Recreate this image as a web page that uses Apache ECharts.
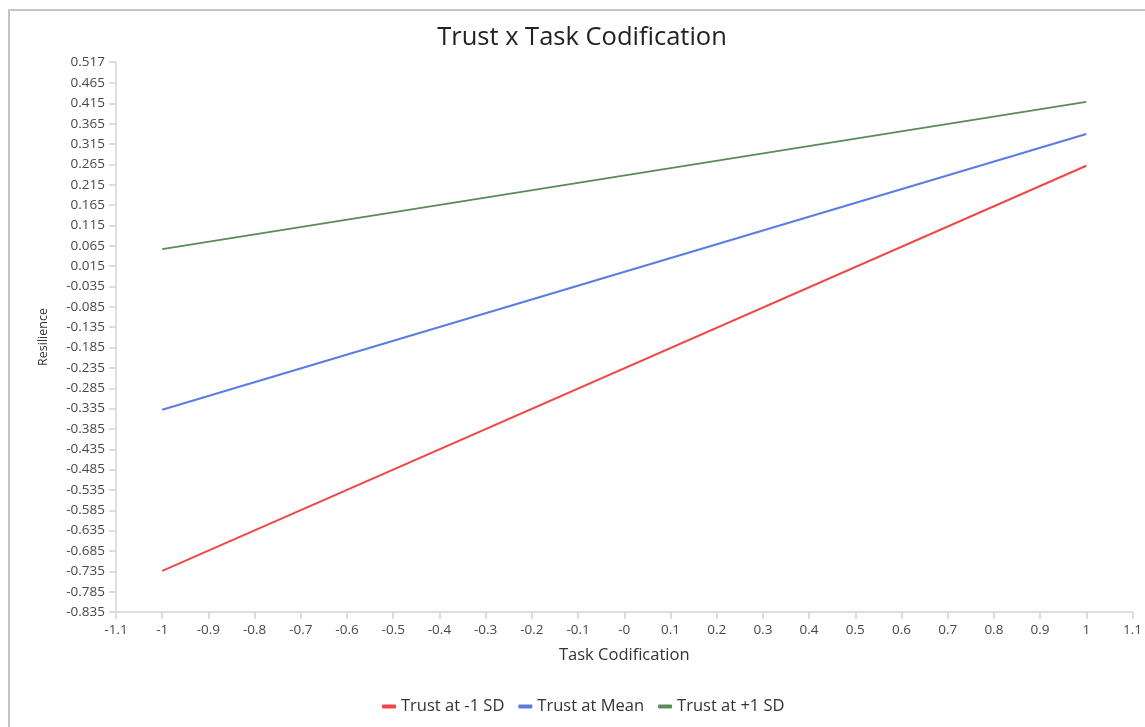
<!DOCTYPE html>
<html>
<head>
<meta charset="utf-8">
<script src="https://cdn.jsdelivr.net/npm/echarts@6/dist/echarts.min.js"></script>
<style>
html,body{margin:0;padding:0;background:#fff;}
#chart{width:1145px;height:727px;}
</style>
</head>
<body>
<div id="chart"></div>
<script>
const seriesNames = ['Trust at -1 SD', 'Trust at Mean', 'Trust at +1 SD'];
const xValues = [-1, 1];
const lowTrust = [-0.734, 0.262];
const meanTrust = [-0.338, 0.340];
const highTrust = [0.057, 0.419];
const yTicks = [-0.835, -0.785, -0.735, -0.685, -0.635, -0.585, -0.535, -0.485, -0.435, -0.385,
  -0.335, -0.285, -0.235, -0.185, -0.135, -0.085, -0.035, 0.015, 0.065, 0.115, 0.165, 0.215,
  0.265, 0.315, 0.365, 0.415, 0.465, 0.517];
const colors = ['#f04848', '#5a7ce4', '#5a8c5a'];

const chart = echarts.init(document.getElementById('chart'));
const font = '"Open Sans", "Noto Sans", sans-serif';
function pairs(ys){ return xValues.map((x,i)=>[x, ys[i]]); }

chart.setOption({
  animation: false,
  textStyle: { fontFamily: font },
  title: {
    text: 'Trust x Task Codification',
    left: 577, top: 20, textAlign: 'center',
    textStyle: { fontSize: 25.5, fontWeight: 'normal', color: '#222', fontFamily: font }
  },
  graphic: [{
    type: 'rect', shape: { x: 9, y: 10, width: 1300, height: 900 },
    style: { fill: 'none', stroke: '#c4c4c4', lineWidth: 2 }, silent: true
  }],
  legend: {
    bottom: 7, left: 377,
    icon: 'roundRect', itemWidth: 14, itemHeight: 4, itemGap: 14,
    textStyle: { fontSize: 16.5, color: '#333', fontFamily: font },
    data: seriesNames
  },
  grid: { left: 116, right: 12, top: 62, bottom: 115, containLabel: false },
  xAxis: {
    type: 'value', min: -1.1, max: 1.1, interval: 0.1,
    name: 'Task Codification', nameLocation: 'middle', nameGap: 35,
    nameTextStyle: { fontSize: 16.5, color: '#333' },
    axisLine: { show: true, onZero: false, lineStyle: { color: '#d4d4d4', width: 1.5 } },
    axisTick: { show: true, length: 7, lineStyle: { color: '#d4d4d4', width: 1.5 } },
    splitLine: { show: false },
    axisLabel: {
      fontSize: 13.5, color: '#484848', margin: 11,
      formatter: v => Math.abs(v) < 1e-9 ? '-0' : String(+v.toFixed(1))
    }
  },
  yAxis: {
    type: 'value', min: -0.835, max: 0.517,
    name: 'Resilience', nameLocation: 'middle', nameGap: 66,
    nameTextStyle: { fontSize: 12.5, color: '#333' },
    axisLine: { show: true, onZero: false, lineStyle: { color: '#d4d4d4', width: 1.5 } },
    axisTick: { show: true, length: 7, customValues: yTicks, lineStyle: { color: '#d4d4d4', width: 1.5 } },
    splitLine: { show: false },
    axisLabel: {
      fontSize: 13.5, color: '#484848', margin: 11, customValues: yTicks,
      formatter: v => (+v).toFixed(3)
    }
  },
  series: [
    { name: seriesNames[0], type: 'line', data: pairs(lowTrust), symbol: 'none', lineStyle: { color: colors[0], width: 2 }, itemStyle: { color: colors[0] } },
    { name: seriesNames[1], type: 'line', data: pairs(meanTrust), symbol: 'none', lineStyle: { color: colors[1], width: 2 }, itemStyle: { color: colors[1] } },
    { name: seriesNames[2], type: 'line', data: pairs(highTrust), symbol: 'none', lineStyle: { color: colors[2], width: 2 }, itemStyle: { color: colors[2] } }
  ]
});
</script>
</body>
</html>
